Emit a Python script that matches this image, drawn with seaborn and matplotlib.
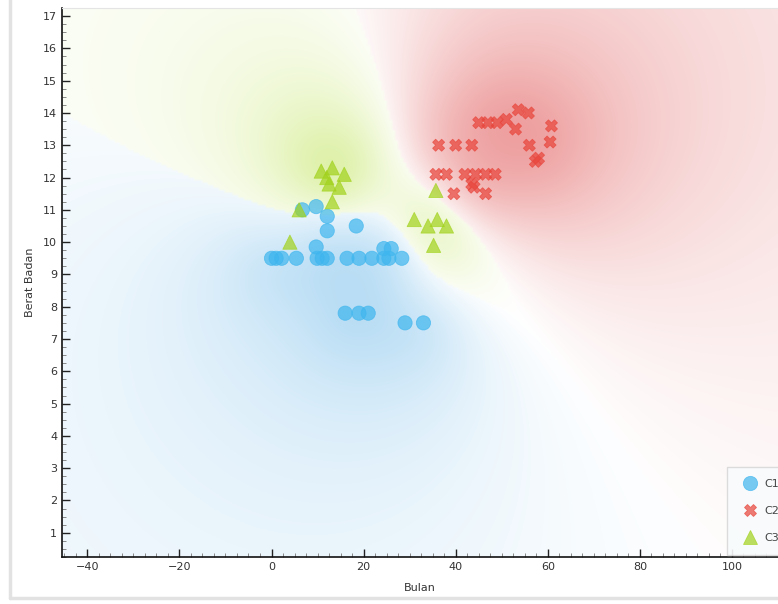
import numpy as np
import pandas as pd
import matplotlib
matplotlib.use('Agg')
import matplotlib.pyplot as plt
from matplotlib.lines import Line2D
from matplotlib.ticker import MultipleLocator
import seaborn as sns

# cluster C1 (blue circles)
c1_bulan = [0, 1, 2.2, 5.4, 9.9, 11, 12.1, 16.4, 19, 21.8, 24.4, 25.5, 28.3,
            24.4, 26, 9.7, 12.1, 18.4, 6.7, 9.7, 12.1,
            16, 19, 21, 29, 33]
c1_berat = [9.5, 9.5, 9.5, 9.5, 9.5, 9.5, 9.5, 9.5, 9.5, 9.5, 9.5, 9.5, 9.5,
            9.8, 9.8, 9.85, 10.35, 10.5, 11.0, 11.1, 10.8,
            7.8, 7.8, 7.8, 7.5, 7.5]

# cluster C2 (red crosses)
c2_bulan = [36.3, 40, 43.5, 45, 47, 49, 51, 53.6, 55.8, 53, 56, 60.5, 60.8, 57.3, 58,
            35.7, 38, 42, 44.3, 46.5, 48.6, 39.6, 43.5, 46.5, 44]
c2_berat = [13.0, 13.0, 13.0, 13.7, 13.7, 13.7, 13.8, 14.1, 14.0, 13.5, 13.0, 13.1, 13.6, 12.5, 12.6,
            12.1, 12.1, 12.1, 12.1, 12.1, 12.1, 11.5, 11.8, 11.5, 11.7]

# cluster C3 (green triangles)
c3_bulan = [4, 6, 13.2, 10.8, 13.2, 15.8, 12.5, 14.7, 12, 31, 34, 36, 38, 35.2, 35.7]
c3_berat = [10.0, 11.0, 11.25, 12.2, 12.3, 12.1, 11.8, 11.7, 12.0, 10.7, 10.5, 10.7, 10.5, 9.9, 11.6]

labels = ['C1', 'C2', 'C3']
marker_colors = {'C1': '#3fb6ee', 'C2': '#e8443a', 'C3': '#a2d21c'}
bg_colors = {'C1': (112, 186, 234), 'C2': (228, 104, 104), 'C3': (182, 224, 64)}

x_lim = (-45.5, 110)
y_lim = (0.25, 17.25)

df = pd.DataFrame({
    'Bulan': c1_bulan + c2_bulan + c3_bulan,
    'Berat Badan': c1_berat + c2_berat + c3_berat,
    'Klaster': ['C1'] * len(c1_bulan) + ['C2'] * len(c2_bulan) + ['C3'] * len(c3_bulan),
})

sns.set_style('ticks')
plt.rcParams['font.family'] = ['DejaVu Sans']

fig = plt.figure(figsize=(7.78, 6.04), dpi=100)
ax = fig.add_axes([62 / 778, 47 / 604, 716 / 778, 549 / 604])

# ── class density background (heavy-tailed kernel per cluster) ──────────────
sx, sy = 4.625, 32.2          # data units -> screen-ish units
gx = np.linspace(*x_lim, 260)
gy = np.linspace(*y_lim, 220)
GX, GY = np.meshgrid(gx, gy)
h = 60.0
dens = []
for lab in labels:
    sub = df[df['Klaster'] == lab]
    dx = (GX[..., None] - sub['Bulan'].values) * sx
    dy = (GY[..., None] - sub['Berat Badan'].values) * sy
    kern = 1.0 / (1.0 + (dx ** 2 + dy ** 2) / h ** 2) ** 2
    dens.append(kern.sum(-1) / len(sub) ** 0.85)
dens = np.stack(dens, -1)
total = dens.sum(-1)
prob = dens / total[..., None]
win = prob.argmax(-1)
pmax = prob.max(-1)
strength = np.clip((pmax - 1 / 3) * 1.5, 0, 1) ** 1.0
dwin = np.take_along_axis(dens, win[..., None], -1)[..., 0]
peak = dens.max(axis=(0, 1))[win]
local = (dwin / peak) ** 0.4
alpha = strength * (0.3 + 0.4 * local)
cols = np.array([bg_colors[l] for l in labels]) / 255.0
rgb = 1 - alpha[..., None] * (1 - cols[win])
ax.imshow(rgb, extent=[*x_lim, *y_lim], origin='lower', aspect='auto',
          interpolation='bilinear', zorder=0)

sns.scatterplot(data=df, x='Bulan', y='Berat Badan', hue='Klaster', style='Klaster',
                size='Klaster', sizes={'C1': 105, 'C2': 75, 'C3': 105},
                hue_order=labels, style_order=labels, size_order=labels,
                palette=marker_colors,
                markers={'C1': 'o', 'C2': 'X', 'C3': '^'},
                alpha=0.7, edgecolor='face', linewidth=0.6, ax=ax, zorder=3)

ax.set_xlim(*x_lim)
ax.set_ylim(*y_lim)
ax.xaxis.set_major_locator(MultipleLocator(20))
ax.xaxis.set_minor_locator(MultipleLocator(2.5))
ax.yaxis.set_major_locator(MultipleLocator(1))
ax.yaxis.set_minor_locator(MultipleLocator(0.25))
ax.set_yticks(range(1, 18))
ax.tick_params(which='both', direction='in', colors='#222222', labelsize=8, labelcolor='#333333')
ax.tick_params(which='major', length=6, width=1)
ax.tick_params(which='minor', length=3, width=0.6, colors='#777777')
ax.set_xlabel('Bulan', fontsize=8, color='#333333', labelpad=8)
ax.set_ylabel('Berat Badan', fontsize=8, color='#333333', labelpad=6)

for side in ['left', 'bottom']:
    ax.spines[side].set_color('#111111')
    ax.spines[side].set_linewidth(1.2)
ax.spines['top'].set_visible(True)
ax.spines['top'].set_color('#e4e4e4')
ax.spines['right'].set_visible(False)

sns.move_legend(ax, 'lower left', bbox_to_anchor=(0.925, 0.0), title=None,
                frameon=True, fontsize=8, labelspacing=1.5, handletextpad=0.3,
                borderpad=0.8)
leg = ax.get_legend()
leg.get_frame().set_edgecolor('#d8d8d8')
leg.get_frame().set_facecolor('#f8fbfd')
leg.get_frame().set_alpha(0.9)
leg.get_frame().set_boxstyle('square')
for t in leg.get_texts():
    t.set_color('#444444')

# light window frame lines of the original screenshot
fig.add_artist(Line2D([10 / 778, 10 / 778], [6 / 604, 1], color='#e2e2e2', lw=2.5))
fig.add_artist(Line2D([10 / 778, 1], [6 / 604, 6 / 604], color='#e2e2e2', lw=2.5))

plt.savefig('out.png', dpi=100)
plt.close()
